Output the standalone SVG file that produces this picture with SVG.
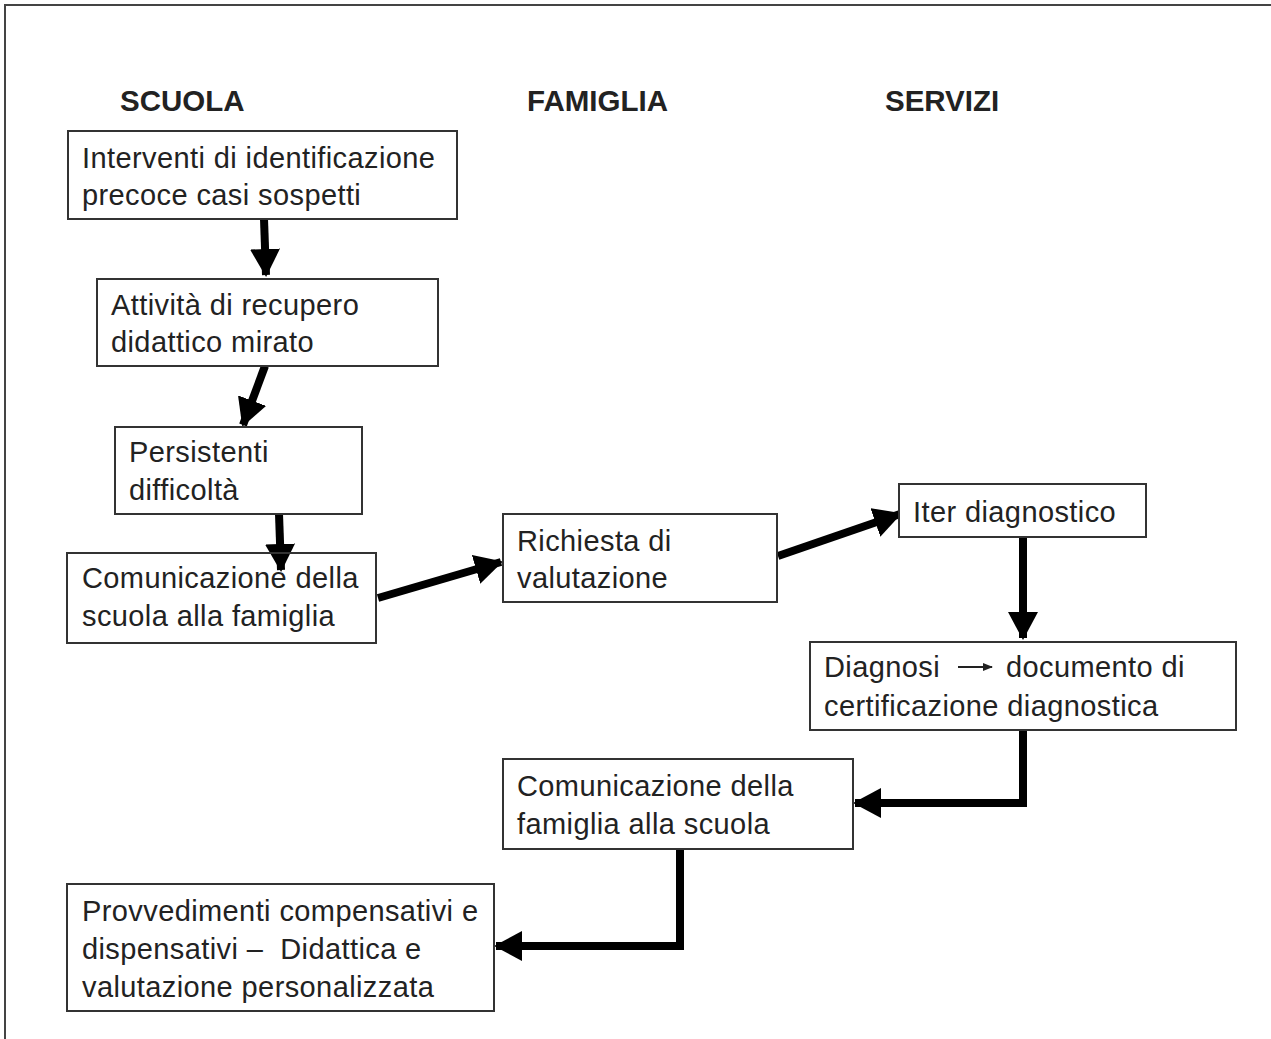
<svg xmlns="http://www.w3.org/2000/svg" width="1271" height="1039" viewBox="0 0 1271 1039">
<defs>
<style>
.box{fill:#fff;stroke:#333;stroke-width:2}
.t{font-family:"Liberation Sans",Arial,sans-serif;font-size:29px;letter-spacing:0.4px;fill:#222}
.h{font-family:"Liberation Sans",Arial,sans-serif;font-size:29.5px;font-weight:bold;fill:#222}
.c{fill:none;stroke:#000;stroke-width:8;marker-end:url(#ah)}
</style>
<marker id="ah" markerUnits="userSpaceOnUse" viewBox="0 0 28 30" markerWidth="28" markerHeight="30" refX="26" refY="15" orient="auto">
<path d="M0,0 L28,15 L0,30 z" fill="#000"/>
</marker>
<marker id="sm" markerUnits="userSpaceOnUse" viewBox="0 0 10 8" markerWidth="10" markerHeight="8" refX="9" refY="4" orient="auto">
<path d="M0,0 L10,4 L0,8 z" fill="#222"/>
</marker>
</defs>
<rect width="1271" height="1039" fill="#fff"/>
<path d="M5,1039 V5 H1271" fill="none" stroke="#444" stroke-width="2"/>
<g id="headers">
<text class="h" x="120" y="111">SCUOLA</text>
<text class="h" x="527" y="111">FAMIGLIA</text>
<text class="h" x="885" y="111">SERVIZI</text>
</g>
<g id="connectors">
<path class="c" d="M264,219 L266,275"/>
<path class="c" d="M265,366 L243,425"/>
<path class="c" d="M279,514 L281,570"/>
<path class="c" d="M378,598 L501,562"/>
<path class="c" d="M778,556 L900,514"/>
<path class="c" d="M1023,537 V638"/>
<path class="c" d="M1023,730 V803 H855"/>
<path class="c" d="M680,849 V946 H496"/>
</g>
<g id="n1"><rect class="box" x="68" y="131" width="389" height="88"/>
<text class="t" x="82" y="168">Interventi di identificazione</text><text class="t" x="82" y="205">precoce casi sospetti</text></g>
<g id="n2"><rect class="box" x="97" y="279" width="341" height="87"/>
<text class="t" x="111" y="315">Attività di recupero</text><text class="t" x="111" y="352">didattico mirato</text></g>
<g id="n3"><rect class="box" x="115" y="427" width="247" height="87"/>
<text class="t" x="129" y="462">Persistenti</text><text class="t" x="129" y="500">difficoltà</text></g>
<g id="n4"><rect class="box" x="67" y="553" width="309" height="90" fill-opacity="0"/>
<text class="t" x="82" y="588">Comunicazione della</text><text class="t" x="82" y="626">scuola alla famiglia</text></g>
<g id="n5"><rect class="box" x="503" y="514" width="274" height="88"/>
<text class="t" x="517" y="551">Richiesta di</text><text class="t" x="517" y="588">valutazione</text></g>
<g id="n6"><rect class="box" x="899" y="484" width="247" height="53"/>
<text class="t" x="913" y="522">Iter diagnostico</text></g>
<g id="n7"><rect class="box" x="810" y="642" width="426" height="88"/>
<text class="t" x="824" y="677">Diagnosi</text>
<line x1="958" y1="667" x2="992" y2="667" stroke="#222" stroke-width="2" marker-end="url(#sm)"/>
<text class="t" x="1006" y="677">documento di</text>
<text class="t" x="824" y="716">certificazione diagnostica</text></g>
<g id="n8"><rect class="box" x="503" y="759" width="350" height="90"/>
<text class="t" x="517" y="796">Comunicazione della</text><text class="t" x="517" y="834">famiglia alla scuola</text></g>
<g id="n9"><rect class="box" x="67" y="884" width="427" height="127"/>
<text class="t" x="82" y="921">Provvedimenti compensativi e</text><text class="t" x="82" y="959" xml:space="preserve">dispensativi –  Didattica e</text><text class="t" x="82" y="997">valutazione personalizzata</text></g>
</svg>
